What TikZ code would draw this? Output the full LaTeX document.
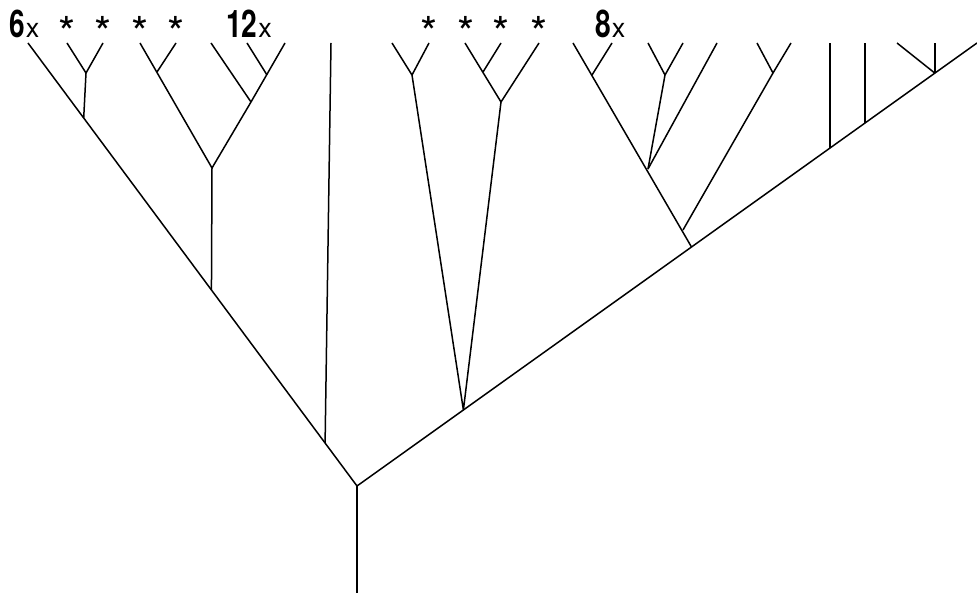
\documentclass[tikz,border=0pt]{standalone}
\usepackage{graphicx}
\usepackage{fontspec}
\setmainfont{TeX Gyre Heros}
\usetikzlibrary{calc}

\newcommand{\copies}[1]{{\fontsize{38}{40}\selectfont\bfseries\scalebox{0.74}[1]{#1}}\kern1pt{\fontsize{27}{28}\selectfont x}}

\begin{document}
\begin{tikzpicture}[
  x=1pt, y=-1pt,
  branch/.style = {line width=1.5pt, line join=round},
  star/.style = {inner sep=0pt, font=\fontsize{44}{44}\selectfont},
  count/.style = {inner sep=0pt, anchor=base west}
]
\useasboundingbox (0,0) rectangle (977,593);

% ======================================================
% Trunk and the two main limbs
% ======================================================
\coordinate (base) at (357,593);
\coordinate (r) at (357,486);
\coordinate (ltop) at (28,43);
\coordinate (rtop) at (977,43);
\draw[branch] (base) -- (r);
\draw[branch] (ltop) -- (r) -- (rtop);

% junctions on the left limb
\coordinate (a1) at ($(r)!0.8307!(ltop)$);
\coordinate (a2) at ($(r)!0.4424!(ltop)$);
\coordinate (a3) at ($(r)!0.097!(ltop)$);

% junctions on the right limb
\coordinate (b1) at ($(r)!0.1716!(rtop)$);
\coordinate (b2) at ($(r)!0.5395!(rtop)$);
\coordinate (b3) at ($(r)!0.763!(rtop)$);
\coordinate (b4) at ($(r)!0.8194!(rtop)$);
\coordinate (b5) at ($(r)!0.932!(rtop)$);

% ======================================================
% Left limb: pair and the 12x group
% ======================================================
\coordinate (p0) at (86,73);
\draw[branch] (a1) -- (p0);
\draw[branch] (67,43) -- (p0) -- (103,43);

\coordinate (c0) at (212,168);
\coordinate (c1) at (157,72);
\coordinate (c2) at (251,102);
\coordinate (c3) at (267,75);
\draw[branch] (a2) -- (c0);
\draw[branch] (140,43) -- (c0) -- (c2) -- (285,43);
\draw[branch] (c1) -- (176,43);
\draw[branch] (c2) -- (211,43);
\draw[branch] (c3) -- (247,43);

% single long branch
\draw[branch] (a3) -- (331,43);

% ======================================================
% Right limb: asterisk group
% ======================================================
\coordinate (d1) at (412,75);
\coordinate (d2) at (501,102);
\coordinate (d3) at (483,72);
\draw[branch] (d1) -- (b1) -- (d2);
\draw[branch] (392,43) -- (d1) -- (429,43);
\draw[branch] (465,43) -- (d2) -- (539,43);
\draw[branch] (d3) -- (501,43);

% ======================================================
% Right limb: 8x group
% ======================================================
\coordinate (e1) at (683,230);
\coordinate (e2) at (648,169);
\coordinate (e3) at (592,75);
\coordinate (e4) at (665,75);
\coordinate (e5) at (773,73);
\draw[branch] (b2) -- (573,43);
\draw[branch] (e3) -- (612,43);
\draw[branch] (e2) -- (e4);
\draw[branch] (648,43) -- (e4) -- (683,43);
\draw[branch] (e2) -- (717,43);
\draw[branch] (e1) -- (e5);
\draw[branch] (757,43) -- (e5) -- (791,43);

% ======================================================
% Right limb: outer branches
% ======================================================
\draw[branch] (b3) -- (b3 |- rtop);
\draw[branch] (b4) -- (b4 |- rtop);
\draw[branch] (b5) -- (b5 |- rtop);
\draw[branch] (b5) -- (897,43);

% ======================================================
% Labels over the tips
% ======================================================
\node[count] (six) at (9,38) {\copies{6}};
\node[count] (twelve) at (226,38) {\copies{12}};
\node[count] (eight) at (595,38) {\copies{8}};

\node[star] (s1) at (67,32) {*};
\node[star] (s2) at (103,32) {*};
\node[star] (s3) at (140,32) {*};
\node[star] (s4) at (176,32) {*};
\node[star] (s5) at (429,32) {*};
\node[star] (s6) at (466,32) {*};
\node[star] (s7) at (501,32) {*};
\node[star] (s8) at (539,32) {*};
\end{tikzpicture}
\end{document}
